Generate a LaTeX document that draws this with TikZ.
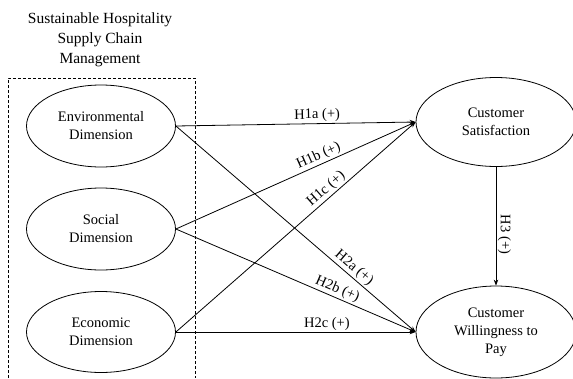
\documentclass[tikz,border=0pt]{standalone}
\usepackage{fontspec}
\setmainfont{Liberation Serif}
\usetikzlibrary{shapes.geometric,arrows.meta}
\begin{document}
\begin{tikzpicture}[x=1pt,y=1pt,
  construct/.style={ellipse,draw,line width=0.8pt,inner sep=0pt,align=center,
    font=\fontsize{14.5}{18}\selectfont},
  path/.style={line width=0.8pt,-{Stealth[length=6pt,width=4.5pt]}},
  hyp/.style={font=\fontsize{14.5}{17}\selectfont,sloped,above,inner sep=1.5pt},
  title/.style={align=center,font=\fontsize{15.5}{20}\selectfont}]
\useasboundingbox (0,0) rectangle (573,-378);
% group frame for the three dimensions
\draw[line width=0.7pt,dash pattern=on 3pt off 2pt] (8,-378) -- (8,-78) -- (195,-78) -- (195,-378);
\node[title] (grp) at (100,-40) {Sustainable Hospitality\\Supply Chain\\Management};
% constructs
\node[construct,minimum width=149pt,minimum height=82pt] (env) at (101,-126) {Environmental\\Dimension};
\node[construct,minimum width=149pt,minimum height=82pt] (soc) at (101,-229) {Social\\Dimension};
\node[construct,minimum width=149pt,minimum height=81pt] (eco) at (101,-332) {Economic\\Dimension};
\node[construct,minimum width=160pt,minimum height=89pt] (cs) at (496,-122) {Customer\\Satisfaction};
\node[construct,minimum width=160pt,minimum height=92pt] (wtp) at (496,-332) {Customer\\Willingness to\\Pay};
% hypothesised paths
\draw[path] (env.east) -- node[hyp,pos=0.59] {H1a (+)} (cs.west);
\draw[path] (soc.east) -- node[hyp,pos=0.61] {H1b (+)} (cs.west);
\draw[path] (eco.east) -- node[hyp,pos=0.65] {H1c (+)} (cs.west);
\draw[path] (env.east) -- node[hyp,pos=0.72] {H2a (+)} (wtp.west);
\draw[path] (soc.east) -- node[hyp,pos=0.66] {H2b (+)} (wtp.west);
\draw[path] (eco.east) -- node[hyp,pos=0.63] {H2c (+)} (wtp.west);
\draw[path] (cs.south) -- node[hyp,pos=0.57] {H3 (+)} (wtp.north);
\end{tikzpicture}
\end{document}
